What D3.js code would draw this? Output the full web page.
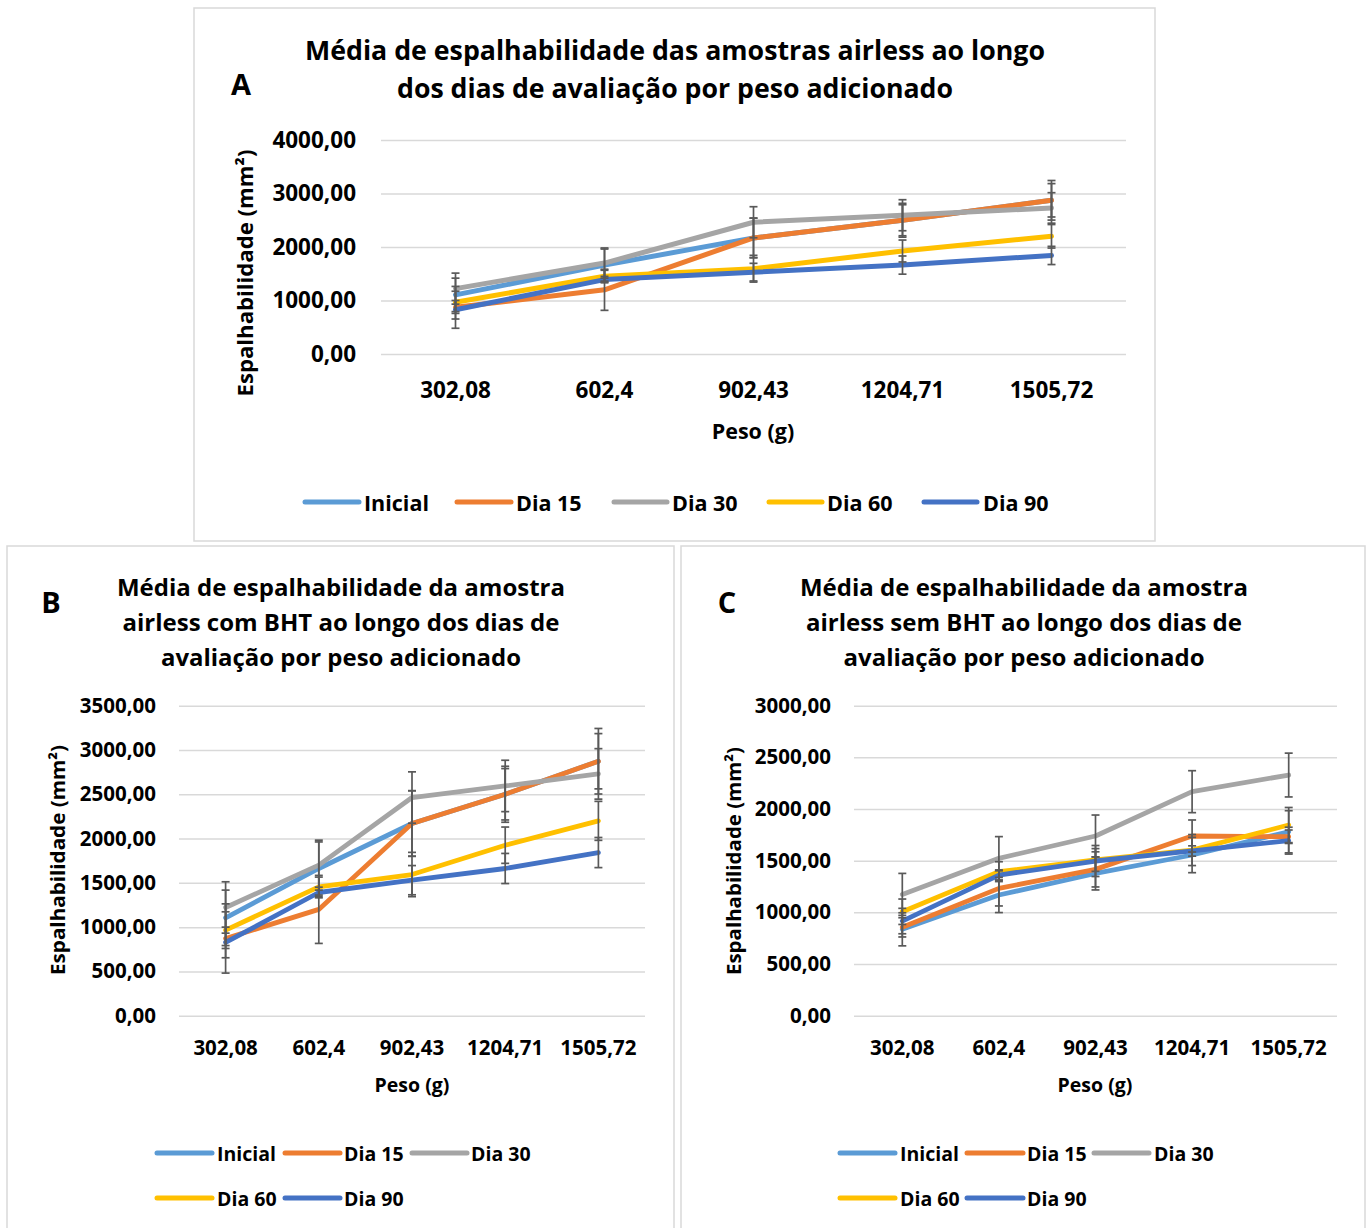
<!DOCTYPE html>
<html>
<head>
<meta charset="utf-8">
<script src="https://cdn.jsdelivr.net/npm/d3@7"></script>
<style>
  body { margin: 0; background: #fff; }
  text { font-family: "Open Sans", "Noto Sans", sans-serif; font-weight: 700; fill: #000; }
</style>
</head>
<body>
<svg id="fig" width="1370" height="1228"></svg>
<script>
// ---- data ----------------------------------------------------------------
const pesos = ["302,08", "602,4", "902,43", "1204,71", "1505,72"];
const seriesNames = ["Inicial", "Dia 15", "Dia 30", "Dia 60", "Dia 90"];
const seriesColors = ["#5b9bd5", "#ed7d31", "#a5a5a5", "#ffc000", "#4472c4"];

// Airless com BHT: mean spreadability (mm²) per added weight
const comBHTInicial = [1105, 1662, 2170, 2500, 2873];
const comBHTDia15   = [872, 1200, 2170, 2500, 2873];
const comBHTDia30   = [1222, 1700, 2463, 2594, 2730];
const comBHTDia60   = [966, 1455, 1594, 1925, 2200];
const comBHTDia90   = [827, 1391, 1530, 1662, 1842];
// standard deviations
const comBHTInicialDP = [313, 300, 370, 290, 312];
const comBHTDia15DP   = [391, 384, 370, 316, 370];
const comBHTDia30DP   = [290, 282, 290, 290, 285];
const comBHTDia60DP   = [207, 110, 250, 205, 220];
const comBHTDia90DP   = [173, 60, 165, 170, 170];

// Airless sem BHT
const semBHTInicial = [836, 1168, 1377, 1555, 1780];
const semBHTDia15   = [855, 1232, 1416, 1739, 1732];
const semBHTDia30   = [1174, 1523, 1739, 2168, 2329];
const semBHTDia60   = [1006, 1394, 1507, 1603, 1845];
const semBHTDia90   = [916, 1361, 1497, 1594, 1694];
const semBHTInicialDP = [160, 170, 160, 171, 204];
const semBHTDia15DP   = [93, 170, 170, 155, 65];
const semBHTDia30DP   = [203, 210, 203, 203, 212];
const semBHTDia60DP   = [123, 96, 110, 150, 170];
const semBHTDia90DP   = [123, 50, 150, 50, 130];

// Panel A (all airless samples) uses the com-BHT series
const amostrasMedias = [comBHTInicial, comBHTDia15, comBHTDia30, comBHTDia60, comBHTDia90];
const amostrasDP     = [comBHTInicialDP, comBHTDia15DP, comBHTDia30DP, comBHTDia60DP, comBHTDia90DP];
const comBHTMedias   = [comBHTInicial, comBHTDia15, comBHTDia30, comBHTDia60, comBHTDia90];
const comBHTDP       = [comBHTInicialDP, comBHTDia15DP, comBHTDia30DP, comBHTDia60DP, comBHTDia90DP];
const semBHTMedias   = [semBHTInicial, semBHTDia15, semBHTDia30, semBHTDia60, semBHTDia90];
const semBHTDP       = [semBHTInicialDP, semBHTDia15DP, semBHTDia30DP, semBHTDia60DP, semBHTDia90DP];

const titleA = ["Média de espalhabilidade das amostras airless ao longo",
                "dos dias de avaliação por peso adicionado"];
const titleB = ["Média de espalhabilidade da amostra",
                "airless com BHT ao longo dos dias de",
                "avaliação por peso adicionado"];
const titleC = ["Média de espalhabilidade da amostra",
                "airless sem BHT ao longo dos dias de",
                "avaliação por peso adicionado"];
const yAxisTitle = "Espalhabilidade (mm²)";
const xAxisTitle = "Peso (g)";

// ---- drawing ---------------------------------------------------------------
const svg = d3.select("#fig");
const ptBR = d3.formatLocale({ decimal: ",", thousands: ".", grouping: [3], currency: ["R$", ""] });
const fmt = ptBR.format(".2f");

function drawPanel(cfg, medias, dps) {
  const g = svg.append("g");

  g.append("rect")
    .attr("x", cfg.box[0]).attr("y", cfg.box[1])
    .attr("width", cfg.box[2]).attr("height", cfg.box[3])
    .attr("fill", "#fff").attr("stroke", "#d9d9d9").attr("stroke-width", 1.5);

  g.append("text")
    .attr("x", cfg.letter.x).attr("y", cfg.letter.y)
    .attr("text-anchor", "middle").attr("dominant-baseline", "central")
    .style("font-size", cfg.letter.size + "px")
    .text(cfg.letter.t);

  cfg.title.lines.forEach((t, i) => {
    g.append("text")
      .attr("x", cfg.title.cx).attr("y", cfg.title.ys[i])
      .attr("text-anchor", "middle").attr("dominant-baseline", "central")
      .attr("textLength", cfg.title.widths[i]).attr("lengthAdjust", "spacingAndGlyphs")
      .style("font-size", cfg.title.size + "px")
      .text(t);
  });

  const x = d3.scaleBand().domain(pesos).range([cfg.plot.x0, cfg.plot.x1]);
  const cx = d => x(d) + x.bandwidth() / 2;
  const y = d3.scaleLinear().domain([0, cfg.yMax]).range([cfg.plot.y0, cfg.plot.y1]);

  // gridlines + y tick labels
  const yAxis = g.append("g")
    .attr("transform", `translate(${cfg.plot.x0},0)`)
    .call(d3.axisLeft(y)
      .tickValues(d3.range(0, cfg.yMax + 1, cfg.yStep))
      .tickSize(-(cfg.plot.x1 - cfg.plot.x0))
      .tickPadding(cfg.plot.x0 - cfg.tickRight)
      .tickFormat(fmt));
  yAxis.select(".domain").remove();
  yAxis.selectAll(".tick line").attr("stroke", "#d9d9d9").attr("stroke-width", 1.5);
  yAxis.selectAll(".tick text")
    .attr("fill", "#000")
    .style("font-family", '"Open Sans", sans-serif').style("font-weight", 700)
    .style("font-size", cfg.tickSize + "px");

  // x tick labels
  const xAxis = g.append("g")
    .attr("transform", `translate(0,${cfg.plot.y0})`)
    .call(d3.axisBottom(x).tickSize(0).tickPadding(0));
  xAxis.select(".domain").remove();
  xAxis.selectAll(".tick text")
    .attr("y", cfg.xTickY - cfg.plot.y0).attr("dy", null)
    .attr("dominant-baseline", "central")
    .attr("fill", "#000")
    .style("font-family", '"Open Sans", sans-serif').style("font-weight", 700)
    .style("font-size", cfg.xTickSize + "px");

  // axis titles
  g.append("text")
    .attr("transform", `translate(${cfg.yTitle.x},${cfg.yTitle.y}) rotate(-90)`)
    .attr("text-anchor", "middle").attr("dominant-baseline", "central")
    .attr("textLength", cfg.yTitle.len).attr("lengthAdjust", "spacingAndGlyphs")
    .style("font-size", cfg.yTitle.size + "px")
    .text(yAxisTitle);
  g.append("text")
    .attr("x", cfg.xTitle.x).attr("y", cfg.xTitle.y)
    .attr("text-anchor", "middle").attr("dominant-baseline", "central")
    .style("font-size", cfg.xTitle.size + "px")
    .text(xAxisTitle);

  // series lines
  const line = d3.line().x((d, i) => cx(pesos[i])).y(d => y(d));
  medias.forEach((vals, s) => {
    g.append("path")
      .datum(vals)
      .attr("d", line)
      .attr("fill", "none")
      .attr("stroke", seriesColors[s])
      .attr("stroke-width", cfg.lineW)
      .attr("stroke-linejoin", "round")
      .attr("stroke-linecap", "round");
  });

  // error bars
  const cap = 4;
  medias.forEach((vals, s) => {
    const eg = g.append("g").attr("stroke", "#595959").attr("stroke-width", 1.7);
    vals.forEach((v, i) => {
      const px = cx(pesos[i]);
      const lo = y(v - dps[s][i]), hi = y(v + dps[s][i]);
      eg.append("line").attr("x1", px).attr("x2", px).attr("y1", lo).attr("y2", hi);
      eg.append("line").attr("x1", px - cap).attr("x2", px + cap).attr("y1", lo).attr("y2", lo);
      eg.append("line").attr("x1", px - cap).attr("x2", px + cap).attr("y1", hi).attr("y2", hi);
    });
  });

  // legend
  cfg.legend.items.forEach((it, s) => {
    g.append("line")
      .attr("x1", it[0]).attr("x2", it[1]).attr("y1", it[3]).attr("y2", it[3])
      .attr("stroke", seriesColors[s]).attr("stroke-width", 5)
      .attr("stroke-linecap", "round");
    g.append("text")
      .attr("x", it[2]).attr("y", it[3])
      .attr("dominant-baseline", "central")
      .style("font-size", cfg.legend.size + "px")
      .text(seriesNames[s]);
  });
}

drawPanel({
  box: [194, 8, 961, 533],
  letter: { t: "A", x: 241, y: 83, size: 29 },
  title: { lines: titleA, cx: 675, ys: [50, 88], widths: [740, 556], size: 26 },
  plot: { x0: 381, x1: 1126, y0: 354, y1: 140 },
  yMax: 4000, yStep: 1000, tickRight: 356, tickSize: 22.5,
  xTickY: 389, xTickSize: 22.5,
  yTitle: { x: 245, y: 273, len: 247, size: 21 },
  xTitle: { x: 753, y: 430, size: 21.5 },
  lineW: 5,
  legend: { size: 21.5, items: [[305, 359, 364, 502], [457, 511, 516, 502], [614, 667, 672, 502],
                              [769, 822, 827, 502], [924, 977, 983, 502]] }
}, amostrasMedias, amostrasDP);

drawPanel({
  box: [7, 546, 667, 700],
  letter: { t: "B", x: 51, y: 601, size: 29 },
  title: { lines: titleB, cx: 341, ys: [586, 621, 656], widths: [448, 437, 360], size: 24 },
  plot: { x0: 179, x1: 645, y0: 1015.7, y1: 705.7 },
  yMax: 3500, yStep: 500, tickRight: 156, tickSize: 20.5,
  xTickY: 1047, xTickSize: 20.5,
  yTitle: { x: 57, y: 860, len: 230, size: 19.5 },
  xTitle: { x: 412, y: 1084, size: 19.5 },
  lineW: 4.8,
  legend: { size: 19.5, items: [[157, 212, 217, 1153], [285, 340, 344, 1153], [412, 467, 471, 1153],
                              [157, 212, 217, 1198], [285, 340, 344, 1198]] }
}, comBHTMedias, comBHTDP);

drawPanel({
  box: [681, 546, 684, 700],
  letter: { t: "C", x: 727, y: 601, size: 29 },
  title: { lines: titleC, cx: 1024, ys: [586, 621, 656], widths: [448, 436, 361], size: 24 },
  plot: { x0: 854, x1: 1337, y0: 1015.7, y1: 705.7 },
  yMax: 3000, yStep: 500, tickRight: 831, tickSize: 20.5,
  xTickY: 1047, xTickSize: 20.5,
  yTitle: { x: 733, y: 861, len: 228, size: 19.5 },
  xTitle: { x: 1095, y: 1084, size: 19.5 },
  lineW: 4.8,
  legend: { size: 19.5, items: [[840, 895, 900, 1153], [967, 1023, 1027, 1153], [1094, 1149, 1154, 1153],
                              [840, 895, 900, 1198], [967, 1023, 1027, 1198]] }
}, semBHTMedias, semBHTDP);
</script>
</body>
</html>
